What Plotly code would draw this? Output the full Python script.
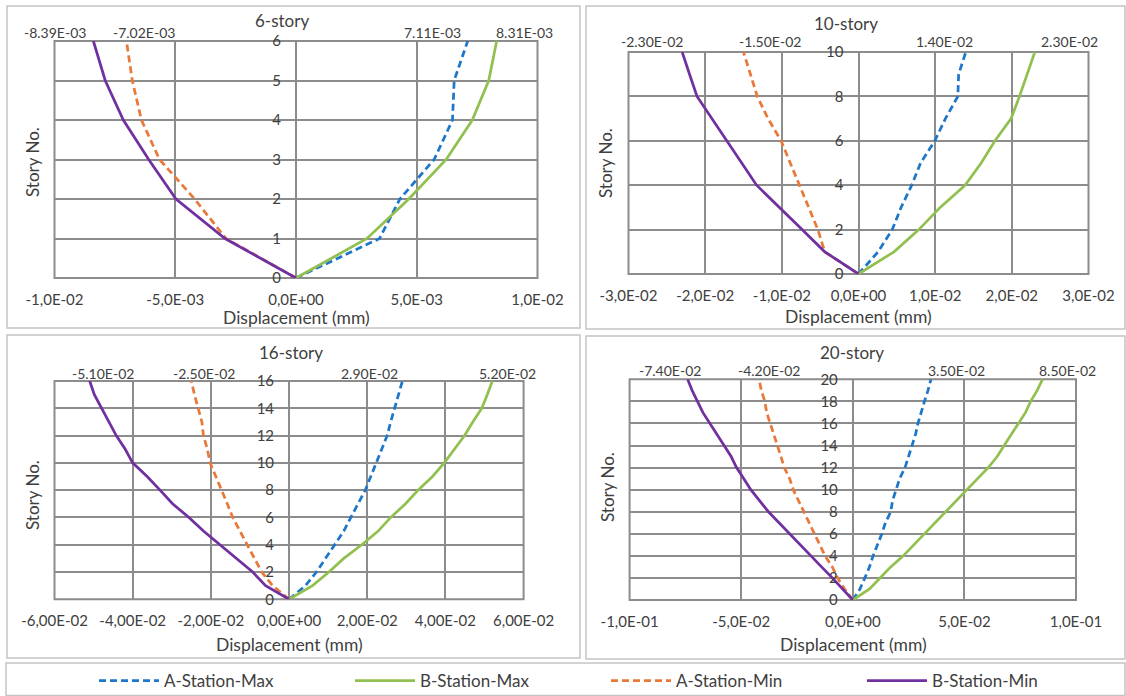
import plotly.graph_objects as go

# ---------------- data: lateral displacement profiles ----------------
STORIES_6 = [0, 1, 2, 3, 4, 5, 6]
A_MAX_6 = [0, 3.46e-3, 4.30e-3, 5.72e-3, 6.48e-3, 6.55e-3, 7.11e-3]
B_MAX_6 = [0, 2.94e-3, 4.67e-3, 6.22e-3, 7.30e-3, 7.98e-3, 8.31e-3]
A_MIN_6 = [0, -2.90e-3, -4.20e-3, -5.65e-3, -6.40e-3, -6.78e-3, -7.02e-3]
B_MIN_6 = [0, -2.94e-3, -4.97e-3, -6.10e-3, -7.15e-3, -7.90e-3, -8.39e-3]

STORIES_10 = [0, 1, 2, 3, 4, 5, 6, 7, 8, 9, 10]
A_MAX_10 = [0, 2.55e-3, 4.40e-3, 5.56e-3, 6.94e-3, 8.10e-3, 9.95e-3, 1.134e-2, 1.296e-2, 1.306e-2, 1.40e-2]
B_MAX_10 = [0, 4.63e-3, 7.87e-3, 1.065e-2, 1.39e-2, 1.60e-2, 1.78e-2, 1.99e-2, 2.10e-2, 2.20e-2, 2.30e-2]
A_MIN_10 = [0, -4.4e-3, -5.3e-3, -6.5e-3, -7.7e-3, -8.8e-3, -1.01e-2, -1.18e-2, -1.32e-2, -1.41e-2, -1.50e-2]
B_MIN_10 = [0, -4.4e-3, -7.36e-3, -1.032e-2, -1.329e-2, -1.523e-2, -1.718e-2, -1.912e-2, -2.106e-2, -2.204e-2, -2.30e-2]

STORIES_16 = [0, 1, 2, 3, 4, 5, 6, 7, 8, 9, 10, 11, 12, 13, 14, 15, 16]
A_MAX_16 = [0, 4.2e-3, 7.0e-3, 9.3e-3, 1.16e-2, 1.40e-2, 1.58e-2, 1.77e-2, 1.95e-2, 2.09e-2,
            2.23e-2, 2.37e-2, 2.51e-2, 2.60e-2, 2.70e-2, 2.79e-2, 2.90e-2]
B_MAX_16 = [0, 6.0e-3, 1.02e-2, 1.40e-2, 1.86e-2, 2.28e-2, 2.60e-2, 2.98e-2, 3.30e-2, 3.67e-2,
            3.97e-2, 4.23e-2, 4.49e-2, 4.70e-2, 4.93e-2, 5.07e-2, 5.20e-2]
A_MIN_16 = [0, -4.2e-3, -7.0e-3, -8.8e-3, -1.07e-2, -1.26e-2, -1.44e-2, -1.58e-2, -1.72e-2, -1.86e-2,
            -2.02e-2, -2.09e-2, -2.19e-2, -2.23e-2, -2.33e-2, -2.42e-2, -2.50e-2]
B_MIN_16 = [0, -6.0e-3, -9.3e-3, -1.35e-2, -1.77e-2, -2.19e-2, -2.56e-2, -2.98e-2, -3.30e-2, -3.63e-2,
            -4.00e-2, -4.19e-2, -4.42e-2, -4.60e-2, -4.79e-2, -4.98e-2, -5.10e-2]

STORIES_20 = [0, 1, 2, 3, 4, 5, 6, 7, 8, 9, 10, 11, 12, 13, 14, 15, 16, 17, 18, 19, 20]
A_MAX_20 = [0, 3.2e-3, 5.4e-3, 7.5e-3, 9.1e-3, 1.11e-2, 1.30e-2, 1.46e-2, 1.70e-2, 1.78e-2, 1.94e-2,
            2.10e-2, 2.34e-2, 2.49e-2, 2.65e-2, 2.81e-2, 2.92e-2, 3.05e-2, 3.21e-2, 3.37e-2, 3.50e-2]
B_MAX_20 = [0, 7.5e-3, 1.22e-2, 1.70e-2, 2.26e-2, 2.73e-2, 3.21e-2, 3.69e-2, 4.16e-2, 4.64e-2, 5.08e-2,
            5.59e-2, 6.07e-2, 6.47e-2, 6.78e-2, 7.10e-2, 7.42e-2, 7.74e-2, 7.97e-2, 8.26e-2, 8.50e-2]
A_MIN_20 = [0, -3.7e-3, -6.8e-3, -9.2e-3, -1.24e-2, -1.48e-2, -1.72e-2, -1.95e-2, -2.19e-2, -2.43e-2, -2.67e-2,
            -2.83e-2, -3.07e-2, -3.22e-2, -3.38e-2, -3.54e-2, -3.70e-2, -3.86e-2, -3.94e-2, -4.10e-2, -4.20e-2]
B_MIN_20 = [0, -4.4e-3, -9.2e-3, -1.40e-2, -1.87e-2, -2.35e-2, -2.83e-2, -3.30e-2, -3.78e-2, -4.18e-2, -4.57e-2,
            -4.89e-2, -5.21e-2, -5.45e-2, -5.77e-2, -6.08e-2, -6.40e-2, -6.72e-2, -6.96e-2, -7.20e-2, -7.40e-2]

TITLES = ["6-story", "10-story", "16-story", "20-story"]

XTICKS_6 = [-0.01, -0.005, 0, 0.005, 0.01]
XTEXT_6 = ["-1,0E-02", "-5,0E-03", "0,0E+00", "5,0E-03", "1,0E-02"]
XTICKS_10 = [-0.03, -0.02, -0.01, 0, 0.01, 0.02, 0.03]
XTEXT_10 = ["-3,0E-02", "-2,0E-02", "-1,0E-02", "0,0E+00", "1,0E-02", "2,0E-02", "3,0E-02"]
XTICKS_16 = [-0.06, -0.04, -0.02, 0, 0.02, 0.04, 0.06]
XTEXT_16 = ["-6,00E-02", "-4,00E-02", "-2,00E-02", "0,00E+00", "2,00E-02", "4,00E-02", "6,00E-02"]
XTICKS_20 = [-0.1, -0.05, 0, 0.05, 0.1]
XTEXT_20 = ["-1,0E-01", "-5,0E-02", "0,0E+00", "5,0E-02", "1,0E-01"]

SERIES = ["A-Station-Max", "B-Station-Max", "A-Station-Min", "B-Station-Min"]

# ---------------- styling ----------------
W, H = 1126, 696
FONT = "Lato"
TXT = "#404040"
GRID = "#8c8c8c"
FRAME = "#c4c4c4"
STYLE = {
    "A-Station-Max": dict(color="#1f77c9", dash="7px,4px"),
    "B-Station-Max": dict(color="#92c050", dash="solid"),
    "A-Station-Min": dict(color="#e8793a", dash="7px,4px"),
    "B-Station-Min": dict(color="#7030a0", dash="solid"),
}


def px_x(p):
    return p / W


def px_y(p):
    return 1 - p / H


panels = [
    dict(stories=STORIES_6, data=[A_MAX_6, B_MAX_6, A_MIN_6, B_MIN_6], xr=[-0.01, 0.01], yr=[0, 6], dy=1,
         xt=XTICKS_6, xtt=XTEXT_6, plot=(54.5, 537.5, 41, 278), frame=(7, 580, 6, 328),
         title=(282, 21), xtitle=(296, 316), ytitle=(33, 162),
         lab=[-35, 28, 18, -38], labdy=9),
    dict(stories=STORIES_10, data=[A_MAX_10, B_MAX_10, A_MIN_10, B_MIN_10], xr=[-0.03, 0.03], yr=[0, 10], dy=2,
         xt=XTICKS_10, xtt=XTEXT_10, plot=(628.5, 1088.5, 52, 274), frame=(586, 1125, 6, 329),
         title=(846, 23), xtitle=(858, 315), ytitle=(605, 163),
         lab=[-21, 35, 27, -30], labdy=10),
    dict(stories=STORIES_16, data=[A_MAX_16, B_MAX_16, A_MIN_16, B_MIN_16], xr=[-0.06, 0.06], yr=[0, 16], dy=2,
         xt=XTICKS_16, xtt=XTEXT_16, plot=(54.5, 523.6, 381, 599.3), frame=(7, 580, 335, 658),
         title=(291, 352), xtitle=(289, 643), ytitle=(33, 495),
         lab=[-33, 15, 13, 13], labdy=8),
    dict(stories=STORIES_20, data=[A_MAX_20, B_MAX_20, A_MIN_20, B_MIN_20], xr=[-0.1, 0.1], yr=[0, 20], dy=2,
         xt=XTICKS_20, xtt=XTEXT_20, plot=(629.6, 1076, 379.3, 600), frame=(586, 1125, 336, 659),
         title=(852, 352), xtitle=(853, 643), ytitle=(607, 487),
         lab=[26, 25, 10, -18], labdy=9),
]

fig = go.Figure()
layout = {}
shapes = []
annotations = []

for i, p in enumerate(panels, start=1):
    xa = "x" if i == 1 else f"x{i}"
    ya = "y" if i == 1 else f"y{i}"
    x0, x1, y0, y1 = p["plot"]
    dom_x = [px_x(x0), px_x(x1)]
    dom_y = [px_y(y1), px_y(y0)]
    xmin, xmax = p["xr"]
    zero_pos = dom_x[0] + (0 - xmin) / (xmax - xmin) * (dom_x[1] - dom_x[0])

    for name, vals in zip(SERIES, p["data"]):
        st = STYLE[name]
        fig.add_trace(go.Scatter(
            x=vals, y=p["stories"], mode="lines", name=name,
            xaxis=xa, yaxis=ya, showlegend=(i == 1), legendgroup=name,
            line=dict(color=st["color"], dash=st["dash"], width=2.75),
            hoverinfo="skip",
        ))

    layout["xaxis" if i == 1 else f"xaxis{i}"] = dict(
        domain=dom_x, range=p["xr"], anchor=ya, tickmode="array",
        tickvals=p["xt"], ticktext=p["xtt"], showgrid=True, gridcolor=GRID, gridwidth=2,
        zeroline=False, showline=False, ticks="outside", ticklen=8,
        tickcolor="rgba(0,0,0,0)", tickfont=dict(family=FONT, size=15, color=TXT),
        fixedrange=True,
    )
    layout["yaxis" if i == 1 else f"yaxis{i}"] = dict(
        domain=dom_y, range=p["yr"], anchor="free", position=zero_pos, dtick=p["dy"],
        tick0=0, showgrid=True, gridcolor=GRID, gridwidth=2, zeroline=False, showline=False,
        ticks="outside", ticklen=12, tickcolor="rgba(0,0,0,0)",
        tickfont=dict(family=FONT, size=15, color=TXT), fixedrange=True,
    )

    # plot-area border, drawn in paper space around the axis domains
    shapes.append(dict(type="rect", xref="paper", yref="paper", x0=dom_x[0], x1=dom_x[1],
                       y0=dom_y[0], y1=dom_y[1], line=dict(color=GRID, width=2), layer="below"))
    # chart frame
    fx0, fx1, fy0, fy1 = p["frame"]
    shapes.append(dict(type="rect", xref="paper", yref="paper", x0=px_x(fx0), x1=px_x(fx1),
                       y0=px_y(fy1), y1=px_y(fy0), line=dict(color=FRAME, width=1.5), layer="below"))

    tx, ty = p["title"]
    annotations.append(dict(text=TITLES[i - 1], xref="paper", yref="paper", x=px_x(tx), y=px_y(ty),
                            xanchor="center", yanchor="middle", showarrow=False,
                            font=dict(family=FONT, size=17, color=TXT)))
    xtx, xty = p["xtitle"]
    annotations.append(dict(text="Displacement (mm)", xref="paper", yref="paper", x=px_x(xtx), y=px_y(xty + 1),
                            xanchor="center", yanchor="middle", showarrow=False,
                            font=dict(family=FONT, size=17.5, color=TXT)))
    ytx, yty = p["ytitle"]
    annotations.append(dict(text="Story No.", xref="paper", yref="paper", x=px_x(ytx), y=px_y(yty),
                            xanchor="center", yanchor="middle", showarrow=False, textangle=-90,
                            font=dict(family=FONT, size=17, color=TXT)))

    # value labels at the roof level
    top = p["stories"][-1]
    for vals, dx in zip(p["data"], p["lab"]):
        v = vals[-1]
        annotations.append(dict(text=f"{v:.2E}", xref=xa, yref=ya, x=v, y=top, xshift=dx,
                                yshift=p["labdy"], xanchor="center", yanchor="middle", showarrow=False,
                                font=dict(family=FONT, size=14, color=TXT)))

# legend frame
shapes.append(dict(type="rect", xref="paper", yref="paper", x0=px_x(6), x1=px_x(1125),
                   y0=px_y(695.5), y1=px_y(663), line=dict(color=FRAME, width=1.5), layer="below"))

fig.update_layout(
    **layout,
    width=W, height=H, margin=dict(l=0, r=0, t=0, b=0, autoexpand=False),
    paper_bgcolor="white", plot_bgcolor="white",
    shapes=shapes, annotations=annotations,
    showlegend=True,
    legend=dict(orientation="h", x=px_x(94), y=px_y(681), xanchor="left", yanchor="middle",
                entrywidth=181, entrywidthmode="pixels", itemwidth=60,
                font=dict(family=FONT, size=17, color=TXT), bgcolor="rgba(0,0,0,0)"),
    font=dict(family=FONT, color=TXT),
)

fig.write_html("out.html")
